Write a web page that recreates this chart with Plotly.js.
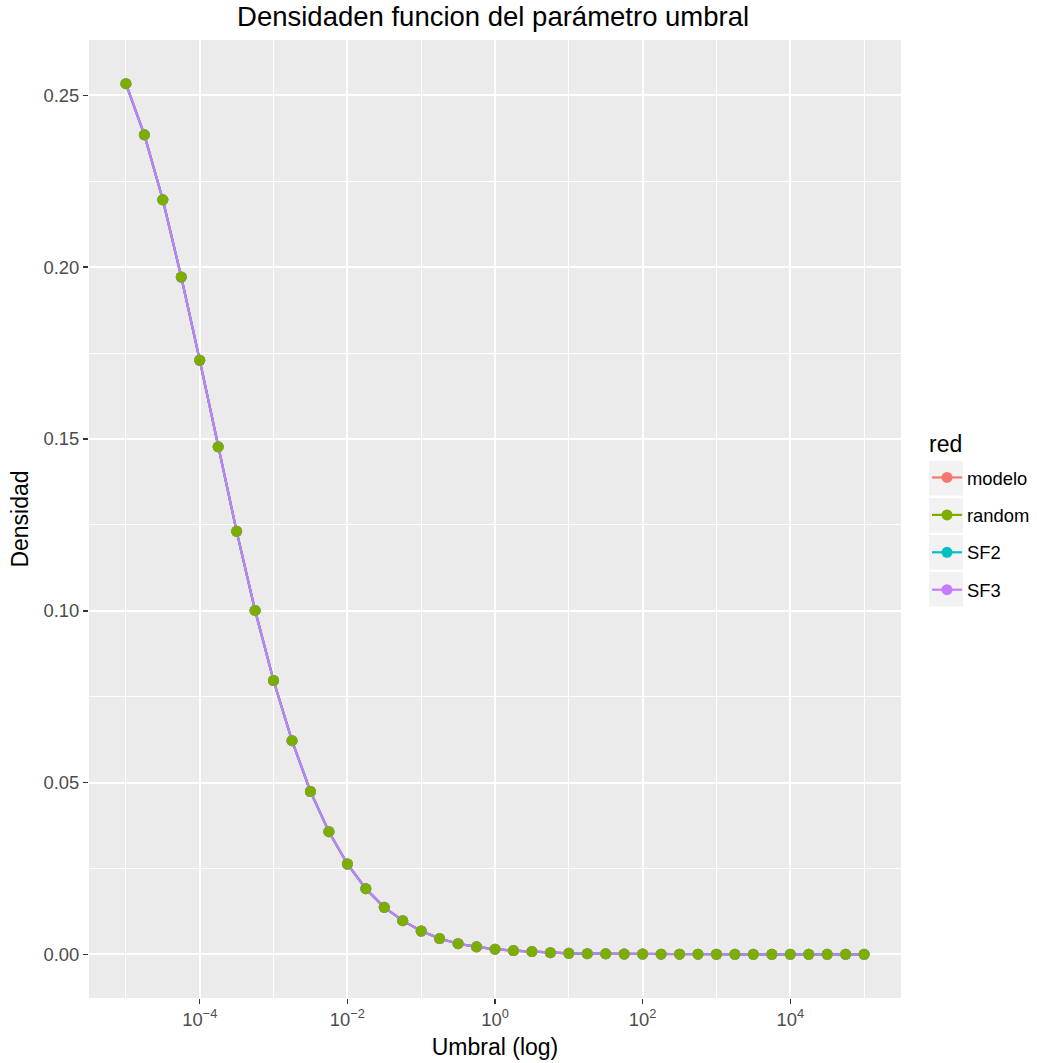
<!DOCTYPE html>
<html>
<head>
<meta charset="utf-8">
<script src="https://cdn.plot.ly/plotly-3.0.1.min.js"></script>
<style>
  html, body { margin: 0; padding: 0; background: #ffffff; }
  #chart { width: 1037px; height: 1063px; }
</style>
</head>
<body>
<div id="chart"></div>
<script>
// Umbral values (log scale, four steps per decade)
const umbral = [
  1e-5, 1.778e-5, 3.162e-5, 5.623e-5,
  1e-4, 1.778e-4, 3.162e-4, 5.623e-4,
  1e-3, 1.778e-3, 3.162e-3, 5.623e-3,
  1e-2, 1.778e-2, 3.162e-2, 5.623e-2,
  1e-1, 1.778e-1, 3.162e-1, 5.623e-1,
  1, 1.778, 3.162, 5.623,
  10, 17.78, 31.62, 56.23,
  100, 177.8, 316.2, 562.3,
  1000, 1778, 3162, 5623,
  10000, 17780, 31620, 56230,
  100000
];

// Density per network
const densidadModelo = [
  0.2534, 0.2385, 0.2196, 0.1971, 0.1729, 0.1477, 0.1231, 0.1001,
  0.0797, 0.0622, 0.0474, 0.0357, 0.0263, 0.0191, 0.0137, 0.0098,
  0.0068, 0.0046, 0.0031, 0.0022, 0.0015, 0.0011, 0.0008, 0.0005,
  0.0003, 0.0002, 0.00015, 0.0001, 0.00008, 0.00006, 0.00005, 0.00004,
  0.00003, 0.00002, 0.00002, 0.00001, 0.00001, 0.00001, 0.00001, 0.00001,
  0.00001
];
const densidadRandom = [
  0.2534, 0.2385, 0.2196, 0.1971, 0.1729, 0.1477, 0.1231, 0.1001,
  0.0797, 0.0622, 0.0474, 0.0357, 0.0263, 0.0191, 0.0137, 0.0098,
  0.0068, 0.0046, 0.0031, 0.0022, 0.0015, 0.0011, 0.0008, 0.0005,
  0.0003, 0.0002, 0.00015, 0.0001, 0.00008, 0.00006, 0.00005, 0.00004,
  0.00003, 0.00002, 0.00002, 0.00001, 0.00001, 0.00001, 0.00001, 0.00001,
  0.00001
];
const densidadSF2 = [
  0.2534, 0.2385, 0.2196, 0.1971, 0.1729, 0.1477, 0.1231, 0.1001,
  0.0797, 0.0622, 0.0474, 0.0357, 0.0263, 0.0191, 0.0137, 0.0098,
  0.0068, 0.0046, 0.0031, 0.0022, 0.0015, 0.0011, 0.0008, 0.0005,
  0.0003, 0.0002, 0.00015, 0.0001, 0.00008, 0.00006, 0.00005, 0.00004,
  0.00003, 0.00002, 0.00002, 0.00001, 0.00001, 0.00001, 0.00001, 0.00001,
  0.00001
];
const densidadSF3 = [
  0.2534, 0.2385, 0.2196, 0.1971, 0.1729, 0.1477, 0.1231, 0.1001,
  0.0797, 0.0622, 0.0474, 0.0357, 0.0263, 0.0191, 0.0137, 0.0098,
  0.0068, 0.0046, 0.0031, 0.0022, 0.0015, 0.0011, 0.0008, 0.0005,
  0.0003, 0.0002, 0.00015, 0.0001, 0.00008, 0.00006, 0.00005, 0.00004,
  0.00003, 0.00002, 0.00002, 0.00001, 0.00001, 0.00001, 0.00001, 0.00001,
  0.00001
];

const redes = ['modelo', 'random', 'SF2', 'SF3'];
const colores = ['#F8766D', '#7CAE00', '#00BFC4', '#C77CFF'];
const series = [densidadModelo, densidadRandom, densidadSF2, densidadSF3];

// Axis ticks
const xTickVals = [1e-4, 1e-2, 1, 1e2, 1e4];
const xTickText = ['10<sup>\u22124</sup>', '10<sup>\u22122</sup>', '10<sup>0</sup>', '10<sup>2</sup>', '10<sup>4</sup>'];
const xMinorVals = [1e-5, 1e-3, 1e-1, 10, 1e3, 1e5];
const yTickVals = [0, 0.05, 0.10, 0.15, 0.20, 0.25];
const yTickText = ['0.00', '0.05', '0.10', '0.15', '0.20', '0.25'];
const yMinorVals = [0.025, 0.075, 0.125, 0.175, 0.225];

const FONT = 'Liberation Sans, Arial, Helvetica, sans-serif';
const traces = [];

// Lines first (SF3 ends on top)
redes.forEach((r, i) => {
  traces.push({
    x: umbral, y: series[i], type: 'scatter', mode: 'lines',
    line: { color: colores[i], width: 2.2 },
    showlegend: false, hoverinfo: 'skip'
  });
});
// Points next, random drawn last
[0, 2, 3, 1].forEach(i => {
  traces.push({
    x: umbral, y: series[i], type: 'scatter', mode: 'markers',
    marker: { color: colores[i], size: 11 },
    showlegend: false, name: redes[i]
  });
});
// Legend keys
redes.forEach((r, i) => {
  traces.push({
    x: [null], y: [null], type: 'scatter', mode: 'lines+markers',
    name: r, legendgroup: r,
    line: { color: colores[i], width: 2.2 },
    marker: { color: colores[i], size: 11 }
  });
});

// Plot-area pixel frame used to place legend decorations
const W = 1037, H = 1063;
const PX = { l: 89, w: 812, b: 998, h: 958 };
const px2x = p => (p - PX.l) / PX.w;
const px2y = p => (PX.b - p) / PX.h;

// Grey key backgrounds behind legend symbols
const keyShapes = [0, 1, 2, 3].map(k => ({
  type: 'rect', xref: 'paper', yref: 'paper',
  x0: px2x(929), x1: px2x(963),
  y0: px2y(495.5 + 37 * k), y1: px2y(461 + 37 * k),
  fillcolor: '#F2F2F2', line: { width: 0 }, layer: 'below'
}));

const layout = {
  width: W, height: H,
  margin: { l: 89, r: 136, t: 40, b: 65 },
  paper_bgcolor: '#FFFFFF',
  plot_bgcolor: '#EBEBEB',
  font: { family: FONT, color: '#000000' },
  title: {
    text: 'Densidaden funcion del parámetro umbral',
    font: { family: FONT, size: 27.5, color: '#000000' },
    x: 0.4755, xanchor: 'center', xref: 'container',
    y: 0.994, yanchor: 'top', yref: 'container'
  },
  xaxis: {
    type: 'log', range: [-5.5, 5.5],
    tickmode: 'array', tickvals: xTickVals, ticktext: xTickText,
    ticks: 'outside', ticklen: 5, tickwidth: 1.5, tickcolor: '#333333',
    tickfont: { family: FONT, size: 18.4, color: '#4D4D4D' },
    showgrid: true, gridcolor: '#FFFFFF', gridwidth: 2,
    minor: { tickvals: xMinorVals, showgrid: true, gridcolor: '#FFFFFF', gridwidth: 1, ticklen: 0 },
    zeroline: false, showline: false,
    title: { text: 'Umbral (log)', font: { family: FONT, size: 23, color: '#000000' }, standoff: 9 }
  },
  yaxis: {
    range: [-0.0127, 0.2661],
    tickmode: 'array', tickvals: yTickVals, ticktext: yTickText,
    ticks: 'outside', ticklen: 5, tickwidth: 1.5, tickcolor: '#333333',
    tickfont: { family: FONT, size: 18.4, color: '#4D4D4D' },
    showgrid: true, gridcolor: '#FFFFFF', gridwidth: 2,
    minor: { tickvals: yMinorVals, showgrid: true, gridcolor: '#FFFFFF', gridwidth: 1, ticklen: 0 },
    zeroline: false, showline: false,
    title: { text: 'Densidad', font: { family: FONT, size: 23, color: '#000000' }, standoff: 8 }
  },
  legend: {
    xref: 'container', yref: 'container',
    x: 927 / W, xanchor: 'left',
    y: 1 - 459 / H, yanchor: 'top',
    bgcolor: 'rgba(0,0,0,0)',
    font: { family: FONT, size: 18.4, color: '#000000' },
    tracegroupgap: 10.5,
    traceorder: 'grouped'
  },
  annotations: [{
    text: 'red', xref: 'paper', yref: 'paper',
    x: px2x(927), xanchor: 'left', y: px2y(444), yanchor: 'middle',
    showarrow: false, font: { family: FONT, size: 23, color: '#000000' }
  }],
  shapes: keyShapes,
  showlegend: true
};

Plotly.newPlot('chart', traces, layout, { displayModeBar: false, staticPlot: true });
</script>
</body>
</html>
